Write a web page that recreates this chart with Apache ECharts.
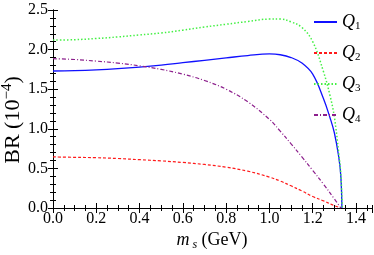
<!DOCTYPE html>
<html><head><meta charset="utf-8">
<script src="https://cdn.jsdelivr.net/npm/echarts@6/dist/echarts.min.js"></script>
<style>html,body{margin:0;padding:0;background:#fff}#c{width:374px;height:255px}</style>
</head><body><div id="c"></div>
<script>
// Data (m_s in GeV, BR in 1e-4)
const q1X = [0, 0.1, 0.2, 0.3, 0.4, 0.5, 0.6, 0.7, 0.8, 0.9, 1.0, 1.05, 1.1, 1.15, 1.2, 1.25, 1.28, 1.3, 1.32, 1.33, 1.335];
const q1Y = [1.73, 1.735, 1.745, 1.76, 1.78, 1.805, 1.835, 1.865, 1.895, 1.925, 1.945, 1.935, 1.90, 1.83, 1.69, 1.38, 1.14, 0.95, 0.65, 0.40, 0.0];
const q2X = [0, 0.1, 0.2, 0.3, 0.4, 0.5, 0.6, 0.7, 0.8, 0.9, 1.0, 1.05, 1.1, 1.15, 1.2, 1.25, 1.3, 1.33];
const q2Y = [0.645, 0.64, 0.635, 0.625, 0.61, 0.595, 0.575, 0.55, 0.515, 0.465, 0.39, 0.34, 0.28, 0.215, 0.145, 0.09, 0.03, 0.0];
const q3X = [0, 0.1, 0.2, 0.3, 0.4, 0.5, 0.6, 0.7, 0.8, 0.9, 1.0, 1.05, 1.1, 1.15, 1.2, 1.25, 1.28, 1.3, 1.32, 1.33, 1.337];
const q3Y = [2.12, 2.125, 2.14, 2.16, 2.185, 2.21, 2.245, 2.285, 2.32, 2.355, 2.385, 2.385, 2.35, 2.28, 2.10, 1.72, 1.42, 1.15, 0.70, 0.42, 0.0];
const q4X = [0, 0.1, 0.2, 0.3, 0.4, 0.5, 0.6, 0.7, 0.8, 0.9, 1.0, 1.05, 1.1, 1.15, 1.2, 1.25, 1.3, 1.33];
const q4Y = [1.885, 1.875, 1.855, 1.83, 1.795, 1.75, 1.69, 1.61, 1.50, 1.34, 1.12, 0.97, 0.81, 0.645, 0.475, 0.30, 0.115, 0.0];
const seriesNames = ['Q1', 'Q2', 'Q3', 'Q4'];
const xMin = 0, xMax = 1.474, yMin = 0, yMax = 2.5;

const zip = (xs, ys) => xs.map((x, i) => [x, ys[i]]);
const FONT = 'Liberation Serif';
const black = '#000';

function xAx(pos, interval, len, line, labels) {
  return {
    type: 'value', position: pos, min: xMin, max: xMax, interval: interval,
    axisLine: { show: line, lineStyle: { color: black, width: 1 } },
    axisTick: { show: true, inside: true, length: len, lineStyle: { color: black, width: 1 } },
    axisLabel: labels ? { show: true, margin: 3, color: black, fontFamily: FONT, fontSize: 16,
      showMaxLabel: false, formatter: v => v.toFixed(1) } : { show: false },
    splitLine: { show: false }
  };
}
function yAx(pos, interval, len, line, labels) {
  return {
    type: 'value', position: pos, min: yMin, max: yMax, interval: interval,
    axisLine: { show: line, lineStyle: { color: black, width: 1 } },
    axisTick: { show: true, inside: true, length: len, lineStyle: { color: black, width: 1 } },
    axisLabel: labels ? { show: true, margin: 5, color: black, fontFamily: FONT, fontSize: 16,
      formatter: v => v.toFixed(1) } : { show: false },
    splitLine: { show: false }
  };
}

const styles = [
  { color: '#1010ff', width: 1.3, type: 'solid' },
  { color: '#ff1a1a', width: 1.2, type: [3, 2] },
  { color: '#44f044', width: 1.5, type: [1.5, 2] },
  { color: '#8c1f8c', width: 1.2, type: [4, 2, 1, 2] }
];
const datas = [zip(q1X, q1Y), zip(q2X, q2Y), zip(q3X, q3Y), zip(q4X, q4Y)];

const chart = echarts.init(document.getElementById('c'), null, { renderer: 'canvas' });
chart.setOption({
  animation: false,
  backgroundColor: '#fff',
  grid: { left: 53, top: 10, right: 2, bottom: 47, containLabel: false },
  xAxis: [
    xAx('bottom', 0.2, 5, true, true),
    xAx('bottom', 0.05, 3, false, false),
    xAx('top', 0.2, 5, true, false),
    xAx('top', 0.05, 3, false, false)
  ],
  yAxis: [
    yAx('left', 0.5, 5, true, true),
    yAx('left', 0.1, 3, false, false),
    yAx('right', 0.5, 5, true, false),
    yAx('right', 0.1, 3, false, false)
  ],
  legend: {
    data: seriesNames, orient: 'vertical', left: 313, top: 13, padding: 0,
    itemWidth: 23, itemHeight: 14, itemGap: 12, selectedMode: false,
    itemStyle: { opacity: 0 },
    formatter: n => '{q|Q}{s|' + n.slice(1) + '}',
    textStyle: {
      color: black,
      rich: {
        q: { fontFamily: FONT, fontStyle: 'italic', fontSize: 18, lineHeight: 20, color: black },
        s: { fontFamily: FONT, fontSize: 11, lineHeight: 11, verticalAlign: 'bottom', color: black }
      }
    }
  },
  series: seriesNames.map((n, i) => ({
    name: n, type: 'line', xAxisIndex: 0, yAxisIndex: 0,
    data: datas[i], symbol: 'none', showSymbol: false,
    smooth: 0.4,
    lineStyle: styles[i], itemStyle: { color: styles[i].color }
  })),
  graphic: [
    {
      type: 'text', x: 13, y: 120, rotation: Math.PI / 2,
      style: {
        text: '{a|BR (10}{b|−4}{a|)}', align: 'center', verticalAlign: 'middle',
        rich: {
          a: { fontFamily: FONT, fontSize: 22, lineHeight: 26, fill: black },
          b: { fontFamily: FONT, fontSize: 15, lineHeight: 15, verticalAlign: 'top', fill: black }
        }
      }
    },
    {
      type: 'text', x: 212, y: 240,
      style: {
        text: '{m|m}{s|s}{a| (GeV)}', align: 'center', verticalAlign: 'middle',
        rich: {
          m: { fontFamily: FONT, fontStyle: 'italic', fontSize: 18, lineHeight: 22, fill: black },
          s: { fontFamily: FONT, fontStyle: 'italic', fontSize: 12, lineHeight: 12, verticalAlign: 'bottom', fill: black, padding: [0, 0, 0, 3] },
          a: { fontFamily: FONT, fontSize: 18, lineHeight: 22, fill: black }
        }
      }
    }
  ]
});
</script></body></html>
